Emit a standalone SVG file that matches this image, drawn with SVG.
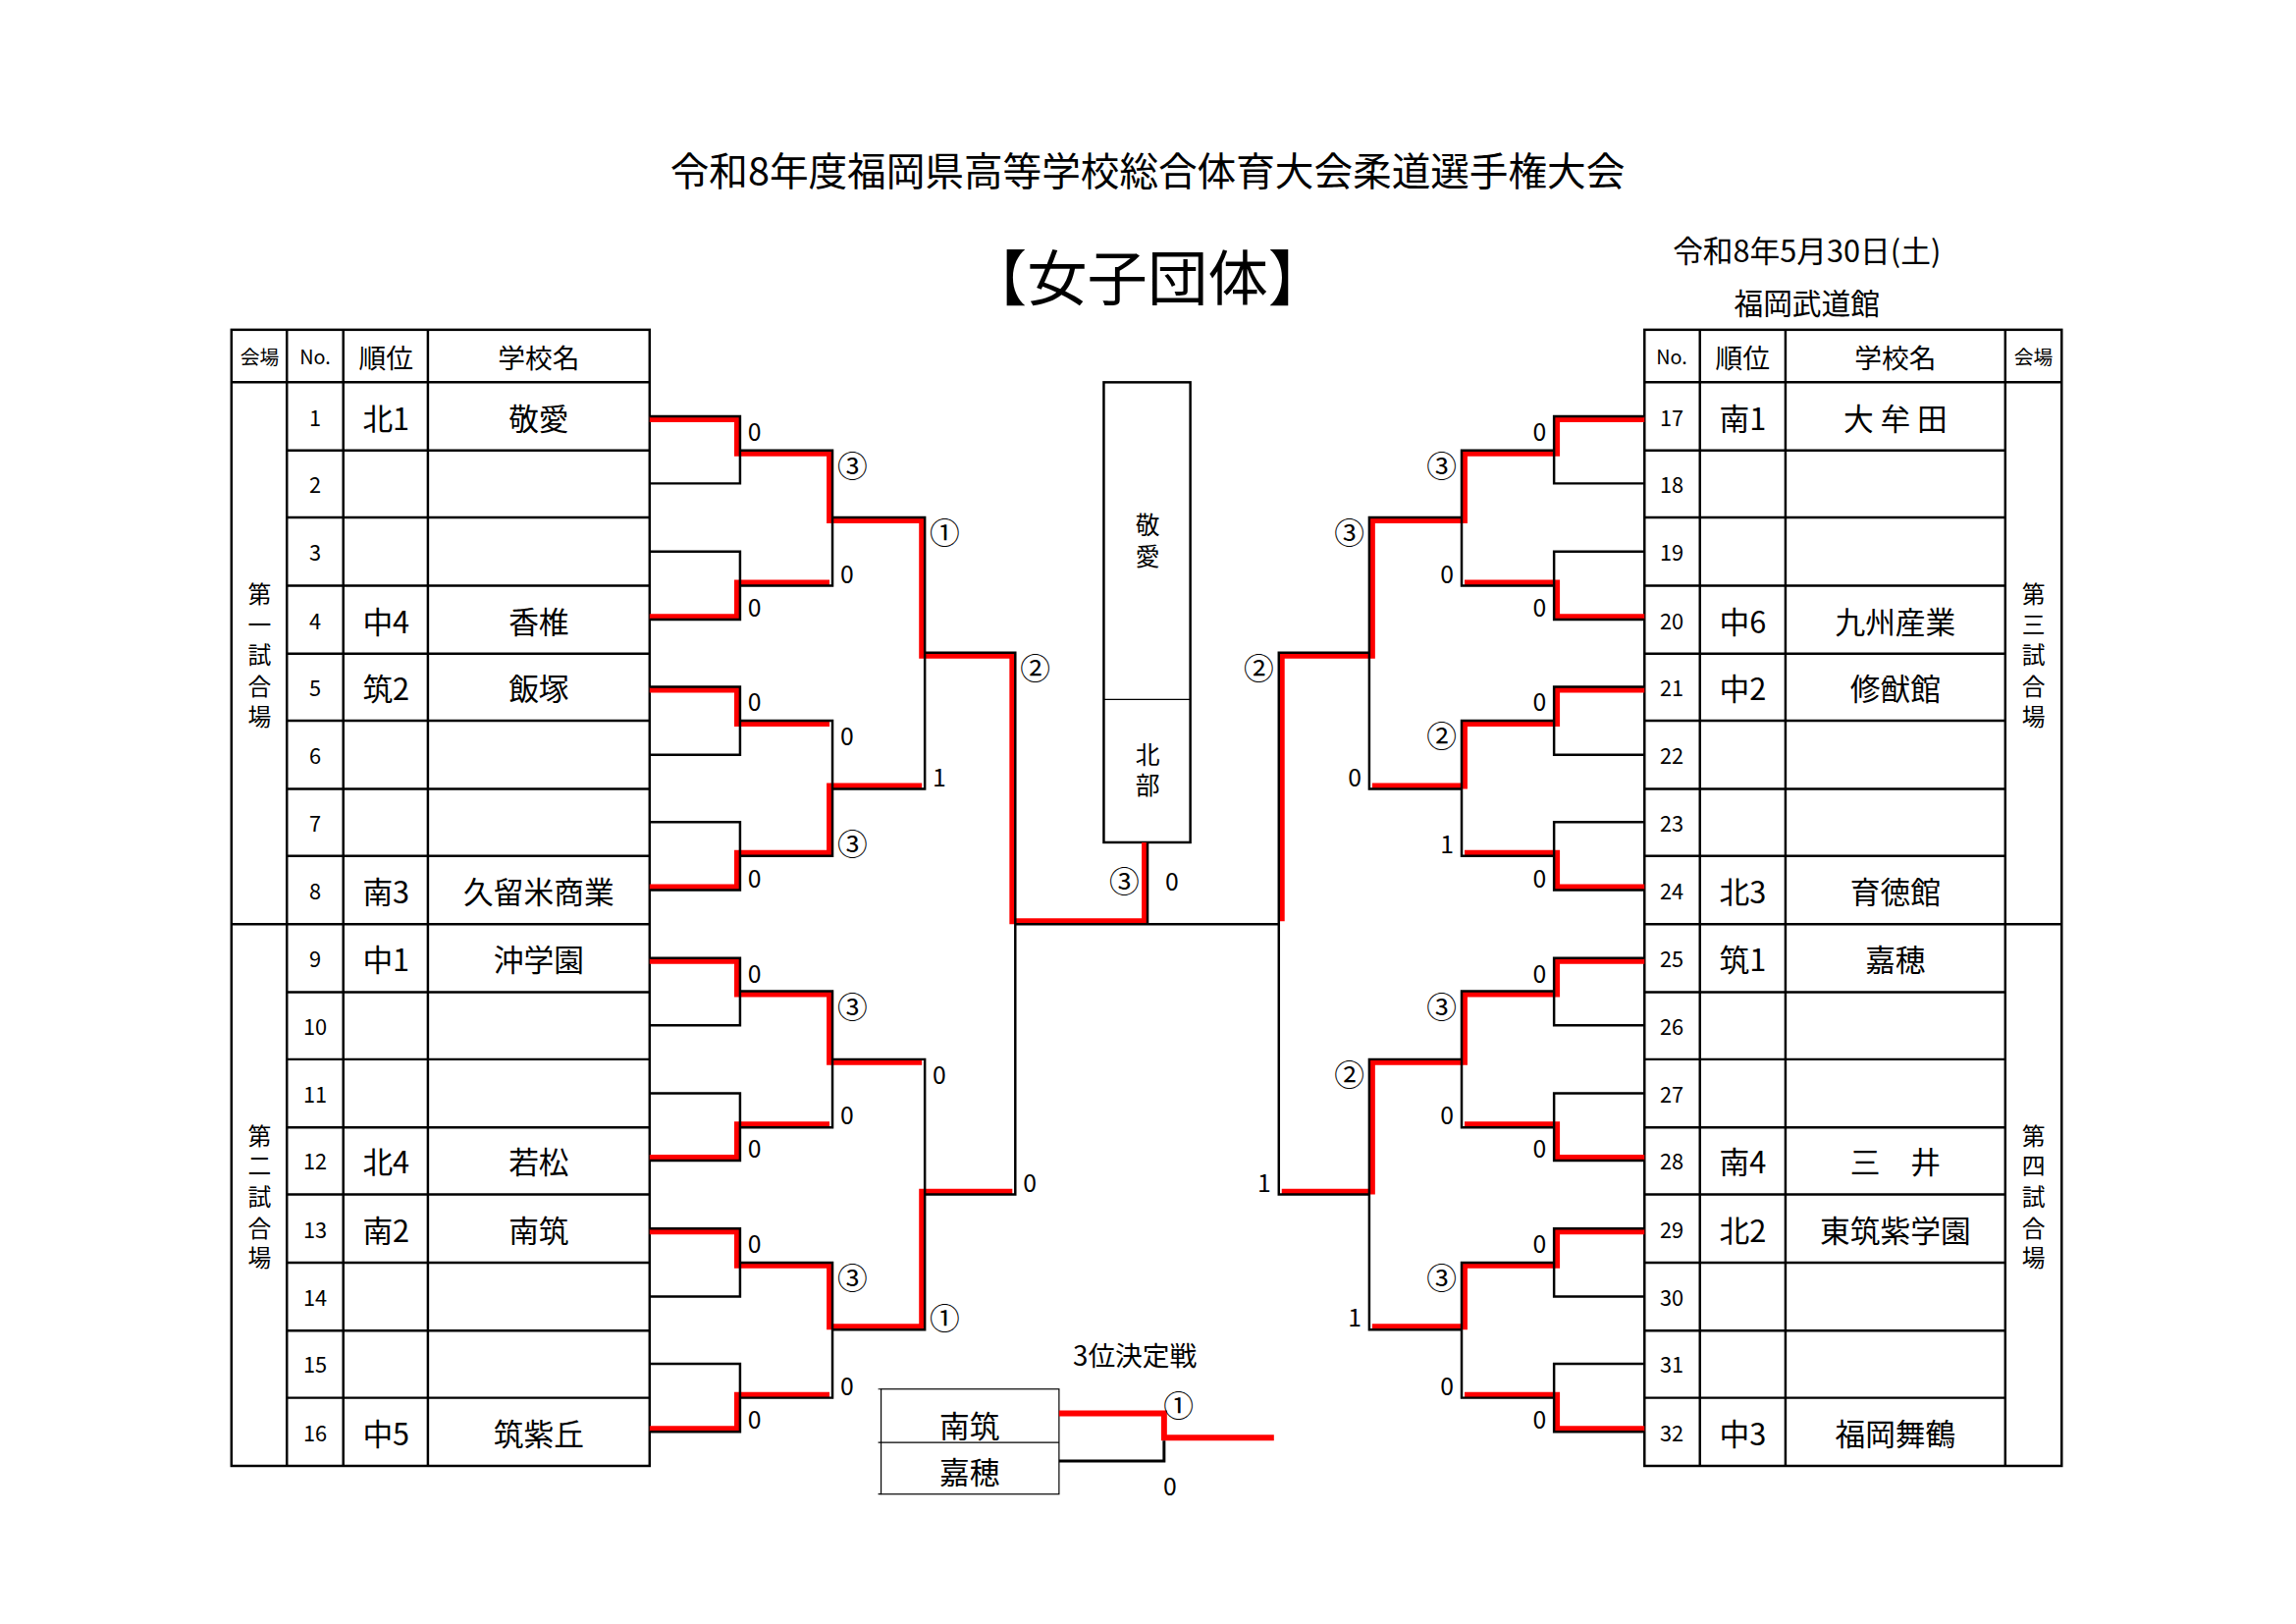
<svg xmlns="http://www.w3.org/2000/svg" width="2339" height="1654" viewBox="0 0 2339 1654">
<style>
text{font-family:"Noto Sans CJK JP","Liberation Sans",sans-serif;fill:#000}
.g{stroke:#000;stroke-width:2.5;fill:none}
.t{stroke:#000;stroke-width:1.2;fill:none}
.r{stroke:#f00;stroke-width:6;fill:none}
.c{text-anchor:middle;dominant-baseline:central}
.n{font-size:22px}.k{font-size:31px}.h{font-size:28px}.s{font-size:20px}
.ls{font-size:25px;dominant-baseline:central}
.ci{font-size:31px}
.e{text-anchor:end}
</style>
<rect width="2339" height="1654" fill="#fff"/>
<g transform="scale(0.9907)">
<text x="1180" y="173" class="c" font-size="40">令和8年度福岡県高等学校総合体育大会柔道選手権大会</text>
<text x="1180" y="282" class="c" font-size="62">【女子団体】</text>
<text x="1858" y="256" class="c" font-size="31">令和8年5月30日(土)</text>
<text x="1858" y="310" class="c" font-size="30">福岡武道館</text>

<g id="left-table">
<rect x="238" y="339" width="430" height="1168" class="g"/>
<path class="g" d="M238 393H668M238 950H668M295 339V1507M353 339V1507M440 339V1507"/>
<path class="g" d="M295 463H668M295 532H668M295 602H668M295 672H668M295 741H668M295 811H668M295 880H668M295 1020H668M295 1089H668M295 1159H668M295 1228H668M295 1298H668M295 1368H668M295 1437H668"/>
<text x="267" y="366" class="c s">会場</text><text x="324" y="366" class="c s">No.</text><text x="397" y="366" class="c h">順位</text><text x="554" y="366" class="c h">学校名</text>
<g class="c" font-size="24"><text x="267" y="609">第</text><text x="267" y="640">一</text><text x="267" y="672">試</text><text x="267" y="704">合</text><text x="267" y="735">場</text>
<text x="267" y="1166">第</text><text x="267" y="1197">二</text><text x="267" y="1229">試</text><text x="267" y="1261">合</text><text x="267" y="1292">場</text></g>
<g class="c n"><text x="324" y="428">1</text><text x="324" y="497">2</text><text x="324" y="567">3</text><text x="324" y="637">4</text><text x="324" y="706">5</text><text x="324" y="776">6</text><text x="324" y="845">7</text><text x="324" y="915">8</text><text x="324" y="985">9</text><text x="324" y="1054">10</text><text x="324" y="1124">11</text><text x="324" y="1193">12</text><text x="324" y="1263">13</text><text x="324" y="1333">14</text><text x="324" y="1402">15</text><text x="324" y="1472">16</text></g>
<g class="c k"><text x="397" y="428">北1</text><text x="397" y="637">中4</text><text x="397" y="706">筑2</text><text x="397" y="915">南3</text><text x="397" y="985">中1</text><text x="397" y="1193">北4</text><text x="397" y="1263">南2</text><text x="397" y="1472">中5</text>
<text x="554" y="428">敬愛</text><text x="554" y="637">香椎</text><text x="554" y="706">飯塚</text><text x="554" y="915">久留米商業</text><text x="554" y="985">沖学園</text><text x="554" y="1193">若松</text><text x="554" y="1263">南筑</text><text x="554" y="1472">筑紫丘</text></g>
</g>

<g id="right-table">
<rect x="1691" y="339" width="429" height="1168" class="g"/>
<path class="g" d="M1691 393H2120M1691 950H2120M1748 339V1507M1836 339V1507M2062 339V1507"/>
<path class="g" d="M1691 463H2062M1691 532H2062M1691 602H2062M1691 672H2062M1691 741H2062M1691 811H2062M1691 880H2062M1691 1020H2062M1691 1089H2062M1691 1159H2062M1691 1228H2062M1691 1298H2062M1691 1368H2062M1691 1437H2062"/>
<text x="1719" y="366" class="c s">No.</text><text x="1792" y="366" class="c h">順位</text><text x="1949" y="366" class="c h">学校名</text><text x="2091" y="366" class="c s">会場</text>
<g class="c" font-size="24"><text x="2091" y="609">第</text><text x="2091" y="640">三</text><text x="2091" y="672">試</text><text x="2091" y="704">合</text><text x="2091" y="735">場</text>
<text x="2091" y="1166">第</text><text x="2091" y="1197">四</text><text x="2091" y="1229">試</text><text x="2091" y="1261">合</text><text x="2091" y="1292">場</text></g>
<g class="c n"><text x="1719" y="428">17</text><text x="1719" y="497">18</text><text x="1719" y="567">19</text><text x="1719" y="637">20</text><text x="1719" y="706">21</text><text x="1719" y="776">22</text><text x="1719" y="845">23</text><text x="1719" y="915">24</text><text x="1719" y="985">25</text><text x="1719" y="1054">26</text><text x="1719" y="1124">27</text><text x="1719" y="1193">28</text><text x="1719" y="1263">29</text><text x="1719" y="1333">30</text><text x="1719" y="1402">31</text><text x="1719" y="1472">32</text></g>
<g class="c k"><text x="1792" y="428">南1</text><text x="1792" y="637">中6</text><text x="1792" y="706">中2</text><text x="1792" y="915">北3</text><text x="1792" y="985">筑1</text><text x="1792" y="1193">南4</text><text x="1792" y="1263">北2</text><text x="1792" y="1472">中3</text>
<text x="1949" y="428">大 牟 田</text><text x="1949" y="637">九州産業</text><text x="1949" y="706">修猷館</text><text x="1949" y="915">育徳館</text><text x="1949" y="985">嘉穂</text><text x="1949" y="1193">三　井</text><text x="1949" y="1263">東筑紫学園</text><text x="1949" y="1472">福岡舞鶴</text></g>
</g>

<g id="winner-box">
<rect x="1135" y="393" width="89" height="473" class="g"/>
<path class="t" d="M1135 719H1224"/>
<g class="c" font-size="25"><text x="1180" y="538">敬</text><text x="1180" y="570">愛</text><text x="1180" y="774">北</text><text x="1180" y="806">部</text></g>
</g>

<g id="connectors">
<path class="r" d="M668 431H758V466H853V535H948V674H1041V947H1177V866"/>
<path class="r" d="M668 634H758V599H853M668 709H758V744H853M668 912H758V877H853V808H948"/>
<path class="r" d="M668 988H758V1022H853V1092H948M668 1190H758V1156H853M668 1266H758V1301H853V1364H948V1225H1041M668 1469H758V1434H853"/>
<path class="r" d="M1691 431H1601V466H1506V535H1411V674H1318V947"/>
<path class="r" d="M1691 634H1601V599H1506M1691 709H1601V744H1506V808H1411M1691 912H1601V877H1506"/>
<path class="r" d="M1691 988H1601V1022H1506V1092H1411V1225H1318M1691 1190H1601V1156H1506M1691 1266H1601V1301H1506V1364H1411M1691 1469H1601V1434H1506"/>
<path class="g" d="M668 428H761V497H668M668 567H761V637H668M668 706H761V776H668M668 845H761V915H668M668 985H761V1054H668M668 1124H761V1193H668M668 1263H761V1333H668M668 1402H761V1472H668"/>
<path class="g" d="M761 463H856V602H761M761 741H856V880H761M761 1019H856V1159H761M761 1298H856V1437H761"/>
<path class="g" d="M856 532H951V811H856M856 1089H951V1367H856M951 671H1044V1228H951M1044 950H1315M1180 866V950"/>
<path class="g" d="M1691 428H1598V497H1691M1691 567H1598V637H1691M1691 706H1598V776H1691M1691 845H1598V915H1691M1691 985H1598V1054H1691M1691 1124H1598V1193H1691M1691 1263H1598V1333H1691M1691 1402H1598V1472H1691"/>
<path class="g" d="M1598 463H1503V602H1598M1598 741H1503V880H1598M1598 1019H1503V1159H1598M1598 1298H1503V1437H1598"/>
<path class="g" d="M1503 532H1408V811H1503M1503 1089H1408V1367H1503M1408 671H1315V1228H1408"/>
</g>

<g id="scores" class="ls">
<text x="769" y="442">0</text><text x="769" y="623">0</text><text x="769" y="720">0</text><text x="769" y="901">0</text><text x="769" y="999">0</text><text x="769" y="1179">0</text><text x="769" y="1277">0</text><text x="769" y="1458">0</text>
<text x="861" y="477" class="ci">③</text><text x="864" y="588">0</text><text x="864" y="755">0</text><text x="861" y="866" class="ci">③</text><text x="861" y="1033" class="ci">③</text><text x="864" y="1145">0</text><text x="861" y="1312" class="ci">③</text><text x="864" y="1423">0</text>
<text x="956" y="546" class="ci">①</text><text x="959" y="797">1</text><text x="959" y="1103">0</text><text x="956" y="1353" class="ci">①</text>
<text x="1049" y="685" class="ci">②</text><text x="1052" y="1214">0</text>
<g class="e"><text x="1590" y="442">0</text><text x="1590" y="623">0</text><text x="1590" y="720">0</text><text x="1590" y="901">0</text><text x="1590" y="999">0</text><text x="1590" y="1179">0</text><text x="1590" y="1277">0</text><text x="1590" y="1458">0</text>
<text x="1498" y="477" class="ci">③</text><text x="1495" y="588">0</text><text x="1498" y="755" class="ci">②</text><text x="1495" y="866">1</text><text x="1498" y="1033" class="ci">③</text><text x="1495" y="1145">0</text><text x="1498" y="1312" class="ci">③</text><text x="1495" y="1423">0</text>
<text x="1403" y="546" class="ci">③</text><text x="1400" y="797">0</text><text x="1403" y="1103" class="ci">②</text><text x="1400" y="1353">1</text>
<text x="1310" y="685" class="ci">②</text><text x="1307" y="1214">1</text></g>
<text x="1156" y="904" class="c ci">③</text><text x="1205" y="904" class="c">0</text>
</g>

<g id="third-place">
<text x="1167" y="1392" class="c" font-size="28">3位決定戦</text>
<rect x="906" y="1428" width="183" height="108" class="t"/>
<path class="t" d="M906 1483H1089M903 1428H906M903 1483H906M903 1536H906"/>
<text x="997" y="1464" class="c k">南筑</text><text x="997" y="1512" class="c k">嘉穂</text>
<path class="r" d="M1089 1453H1197V1478H1310"/>
<path d="M1089 1502H1197V1481" stroke="#000" stroke-width="3" fill="none"/>
<text x="1212" y="1443" class="c ci">①</text><text x="1203" y="1526" class="c" font-size="25">0</text>
</g>
</g>
</svg>
